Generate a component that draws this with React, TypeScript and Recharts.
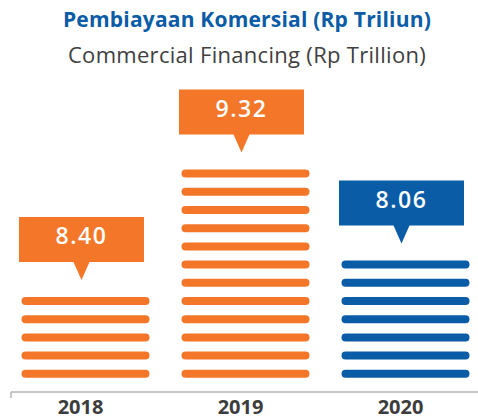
import React from 'react';
import { BarChart, Bar, XAxis, YAxis } from 'recharts';

const years = ['2018', '2019', '2020'];
const values = [8.4, 9.32, 8.06];
const stripeCounts = [5, 12, 7];
const barColors = ['#F47629', '#F47629', '#0B5CA6'];

const titleId = 'Pembiayaan Komersial (Rp Triliun)';
const titleEn = 'Commercial Financing (Rp Trillion)';

const data = years.map((y, i) => ({
  year: y,
  stripes: stripeCounts[i],
  value: values[i],
  color: barColors[i],
}));

const FONT = '"Open Sans", sans-serif';

const StripedBar = (props: any) => {
  const { x, y, width, height, payload } = props;
  const n = payload.stripes;
  const pitch = height / n;
  const th = 8;
  const cx = x + width / 2;
  const stripes = [];
  for (let k = 0; k < n; k++) {
    const cy = y + height - (k + 0.5) * pitch;
    stripes.push(
      <rect key={k} x={x} y={cy - th / 2} width={width} height={th} rx={th / 2} fill={payload.color} />
    );
  }
  const boxW = 125;
  const boxH = 45;
  const tipH = 18;
  const tipW = 16;
  const bcx = cx - 4;
  const tipY = y - 12;
  const boxBottom = tipY - tipH;
  const boxTop = boxBottom - boxH;
  return (
    <g>
      {stripes}
      <path
        d={`M${bcx - boxW / 2},${boxTop} H${bcx + boxW / 2} V${boxBottom} H${bcx + tipW / 2} L${bcx},${tipY} L${bcx - tipW / 2},${boxBottom} H${bcx - boxW / 2} Z`}
        fill={payload.color}
      />
      <text
        x={bcx}
        y={boxTop + 27}
        textAnchor="middle"
        fill="#ffffff"
        fontFamily={FONT}
        fontWeight={600}
        fontSize={23}
        letterSpacing={1.5}
      >
        {payload.value.toFixed(2)}
      </text>
    </g>
  );
};

const YearTick = (props: any) => {
  const { x, y, payload } = props;
  return (
    <text x={x - 5} y={y + 20} textAnchor="middle" fill="#3c3c3c" fontFamily={FONT} fontWeight={700} fontSize={20}>
      {payload.value}
    </text>
  );
};

export default function App() {
  return (
    <div style={{ position: 'absolute', left: 0, top: 0, width: 478, height: 420, background: '#fff' }}>
      <BarChart
        width={478}
        height={420}
        data={data}
        margin={{ top: 155.4, right: 0, bottom: 0, left: 11 }}
      >
        <XAxis
          dataKey="year"
          height={28}
          tickLine={false}
          tickSize={0}
          axisLine={{ stroke: '#b5b5b5', strokeWidth: 1.5 }}
          padding={{ left: -5.5, right: -7.5 }}
          tick={<YearTick />}
          interval={0}
        />
        <YAxis hide domain={[-0.5, 12.5]} />
        <Bar dataKey="stripes" barSize={128} shape={<StripedBar />} isAnimationActive={false} />
      </BarChart>
      <svg width={478} height={420} style={{ position: 'absolute', left: 0, top: 0, pointerEvents: 'none' }}>
        <text x={247} y={27} textAnchor="middle" fill="#0B5CA6" fontFamily={FONT} fontWeight={700} fontSize={21} letterSpacing={0.2}>
          {titleId}
        </text>
        <text x={247} y={63} textAnchor="middle" fill="#404040" fontFamily={FONT} fontWeight={400} fontSize={22} letterSpacing={0.3}>
          {titleEn}
        </text>
        <line x1={11} y1={392} x2={11} y2={398} stroke="#b5b5b5" strokeWidth={1.5} />
      </svg>
    </div>
  );
}
